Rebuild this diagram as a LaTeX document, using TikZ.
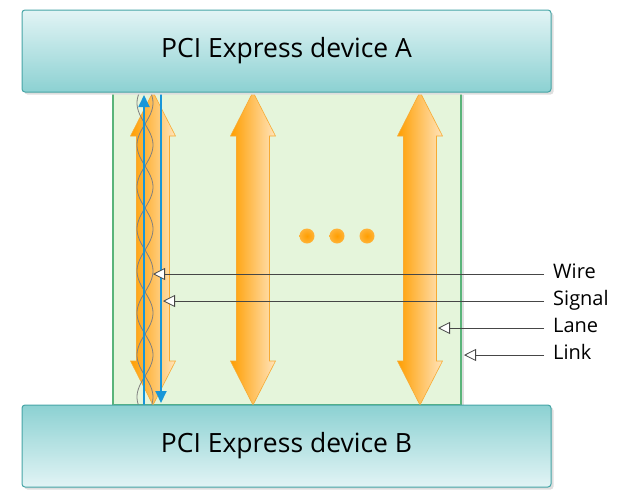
\documentclass[tikz,border=0pt]{standalone}
\usepackage{fontspec}
\setmainfont{Open Sans}
\usetikzlibrary{positioning,arrows.meta,calc}
\definecolor{tealedge}{RGB}{70,165,166}
\definecolor{teallight}{RGB}{226,244,245}
\definecolor{tealdark}{RGB}{140,209,210}
\definecolor{linkfill}{RGB}{229,245,219}
\definecolor{linkedge}{RGB}{90,180,122}
\definecolor{lanedark}{RGB}{255,158,0}
\definecolor{lanelight}{RGB}{255,228,188}
\definecolor{laneedge}{RGB}{247,170,50}
\definecolor{wireblue}{RGB}{24,150,216}
\definecolor{callgray}{RGB}{70,70,70}

\begin{document}
\begin{tikzpicture}[x=1pt,y=-1pt,
    shadowed/.style={preaction={fill=black!13,transform canvas={shift={(2.5pt,-2.5pt)}}}},
    device/.style={shadowed,draw=tealedge,line width=1pt,rounded corners=3pt,
                   minimum width=529pt,minimum height=82pt,font=\fontsize{26.5}{30}\selectfont},
    linkbox/.style={shadowed,fill=linkfill,draw=linkedge,line width=1.3pt,
                    minimum width=348pt,minimum height=313pt},
    lane/.style={left color=lanedark,right color=lanelight,draw=laneedge,line width=0.6pt},
    sig/.style={wireblue,line width=1.8pt,-{Triangle[length=12pt,width=11pt]}},
    callout/.style={callgray,line width=0.8pt,-{Triangle[length=12pt,width=12pt,fill=white]}},
    lbl/.style={anchor=west,inner xsep=9pt,font=\fontsize{20}{24}\selectfont,
                text height=14pt,text depth=5pt}]
    \useasboundingbox (0,0) rectangle (617,490);
    \node[linkbox] (link) at (287,248.5) {};
    \foreach \lx in {153,253,420}
      \shade[lane] (\lx,92) -- (\lx+22.5,136) -- (\lx+16.5,136) -- (\lx+16.5,361)
        -- (\lx+22.5,361) -- (\lx,405) -- (\lx-22.5,361) -- (\lx-16.5,361)
        -- (\lx-16.5,136) -- (\lx-22.5,136) -- cycle;
    \foreach \s in {1,-1}
      \draw[black!50,line width=0.8pt] plot[domain=92:405,samples=150,smooth,variable=\t]
        ({145+\s*8*sin(4.2857*(\t-124))},\t);
    \coordinate (upfoot) at (144,405);
    \coordinate (uptip) at (144,95);
    \coordinate (downfoot) at (161,92);
    \coordinate (downtip) at (161,403);
    \draw[sig] (upfoot) -- (uptip);
    \draw[sig] (downfoot) -- (downtip);
    \foreach \dx [count=\i] in {307,337,367}
      \shade[inner color=lanedark,outer color=lanedark!70!lanelight] (\dx,236) circle (7.5) node (dot\i) {};
    \node[device,top color=teallight,bottom color=tealdark] (devA) at (286.5,51) {PCI Express device A};
    \node[device,top color=tealdark,bottom color=teallight] (devB) at (286.5,446) {PCI Express device B};
    \node[lbl] (wire) at (544,274) {Wire};
    \node[lbl] (signal) at (544,301) {Signal};
    \node[lbl] (lanelbl) at (544,328) {Lane};
    \node[lbl] (linklbl) at (544,355) {Link};
    \coordinate (wireend) at (153,274);
    \coordinate (signalend) at (163,301);
    \coordinate (laneend) at (438,328);
    \coordinate (linkend) at (464,355);
    \foreach \a/\b in {wire/wireend,signal/signalend,lanelbl/laneend,linklbl/linkend}
      \draw[callout] (\a.west) -- (\b);
  \end{tikzpicture}
\end{document}
